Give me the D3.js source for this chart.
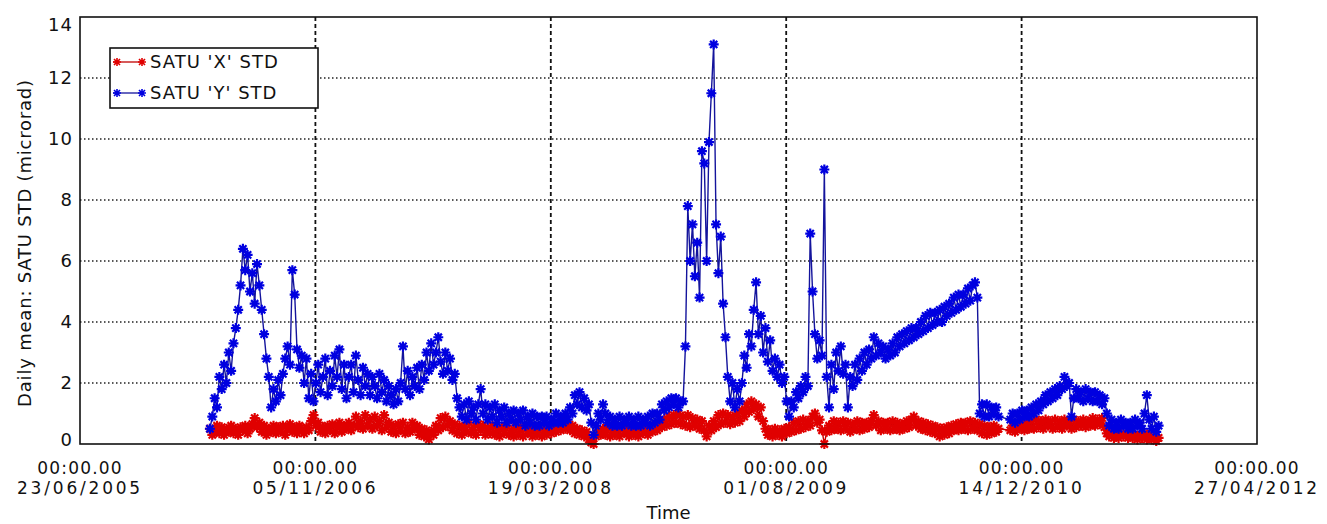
<!DOCTYPE html>
<html>
<head>
<meta charset="utf-8">
<script src="https://cdn.jsdelivr.net/npm/d3@7"></script>
<style>
  body { margin: 0; background: #fff; }
  svg text { font-family: "DejaVu Sans", sans-serif; fill: #111; }
</style>
</head>
<body>
<svg width="1327" height="524"></svg>
<script>
// daily means, read every 5 days from the first day of data
var startDate = "2006-03-26", stepDays = 5;

var satuX = [
  0.5,0.3,0.45,0.6,0.35,0.55,0.3,0.5,0.4,0.6,
  0.35,0.5,0.3,0.55,0.45,0.6,0.35,0.5,0.65,0.85,
  0.55,0.7,0.4,0.6,0.3,0.5,0.4,0.6,0.35,0.55,
  0.4,0.6,0.3,0.5,0.65,0.4,0.55,0.35,0.6,0.45,
  0.35,0.55,0.45,0.75,0.95,0.6,0.7,0.4,0.55,0.35,
  0.6,0.45,0.65,0.35,0.55,0.7,0.4,0.6,0.5,0.7,
  0.45,0.6,0.9,0.55,0.75,0.5,0.95,0.6,0.8,0.5,
  0.9,0.6,0.75,0.45,0.95,0.55,0.7,0.4,0.6,0.35,
  0.65,0.45,0.7,0.35,0.55,0.4,0.7,0.5,0.6,0.3,
  0.5,0.25,0.45,0.15,0.4,0.3,0.6,0.45,0.85,0.55,
  0.9,0.6,0.75,0.45,0.65,0.35,0.6,0.3,0.55,0.4,
  0.7,0.35,0.55,0.3,0.65,0.45,0.6,0.3,0.5,0.35,
  0.6,0.3,0.5,0.25,0.55,0.35,0.6,0.3,0.45,0.25,
  0.55,0.3,0.5,0.25,0.6,0.35,0.5,0.25,0.45,0.3,
  0.55,0.25,0.45,0.3,0.55,0.35,0.6,0.4,0.65,0.45,
  0.75,0.5,0.65,0.45,0.6,0.35,0.5,0.3,0.45,0.25,
  0.4,0.15,0.05,0.0,0.25,0.45,0.3,0.5,0.3,0.55,
  0.25,0.45,0.3,0.5,0.25,0.55,0.35,0.5,0.25,0.45,
  0.3,0.5,0.25,0.55,0.35,0.5,0.3,0.6,0.4,0.6,
  0.45,0.7,0.55,0.8,0.6,0.9,0.65,0.95,0.7,1.0,
  0.65,0.9,0.6,0.95,0.55,0.85,0.6,0.8,0.5,0.75,
  0.45,0.25,0.6,0.45,0.75,0.55,0.95,0.65,1.0,0.7,
  0.95,0.65,0.9,0.7,1.0,0.75,1.1,0.9,1.3,1.05,
  1.4,1.15,1.3,0.9,1.2,0.75,0.5,0.3,0.45,0.25,
  0.5,0.3,0.45,0.25,0.5,0.35,0.55,0.4,0.7,0.45,
  0.75,0.5,0.8,0.55,0.75,0.6,0.9,1.0,0.7,0.8,
  0.45,0.0,0.4,0.6,0.45,0.75,0.5,0.7,0.45,0.75,
  0.5,0.7,0.4,0.65,0.5,0.75,0.45,0.7,0.5,0.7,
  0.55,0.75,0.95,0.6,0.75,0.45,0.7,0.5,0.7,0.45,
  0.75,0.5,0.7,0.45,0.65,0.5,0.75,0.55,0.8,0.9,
  0.6,0.75,0.5,0.7,0.45,0.65,0.4,0.6,0.35,0.55,
  0.25,0.5,0.3,0.55,0.35,0.6,0.45,0.65,0.45,0.7,
  0.5,0.7,0.45,0.75,0.5,0.7,0.45,0.65,0.35,0.6,
  0.3,0.55,0.35,0.6,0.4,0.5,null,null,null,null,
  0.45,0.6,0.4,0.6,0.5,0.65,0.45,0.7,0.5,0.75,
  0.5,0.8,0.55,0.75,0.5,0.8,0.6,0.75,0.5,0.8,
  0.55,0.75,0.5,0.8,0.6,0.75,0.5,0.8,0.55,0.75,
  0.6,0.8,0.55,0.75,0.6,0.85,0.6,0.8,0.65,0.85,
  0.55,0.35,0.25,0.35,0.2,0.3,0.2,0.35,0.25,0.3,
  0.2,0.35,0.2,0.3,0.15,0.3,0.2,0.35,0.15,0.3,
  0.15,0.25,0.1,0.2];

var satuY = [
  0.5,0.9,1.5,1.2,2.2,1.8,2.6,2.0,3.0,2.4,
  3.3,3.8,4.4,5.2,6.4,5.7,6.2,5.0,5.6,4.6,
  5.9,5.2,4.4,3.6,2.8,2.2,1.2,1.8,1.4,2.1,
  1.6,2.3,2.8,3.2,2.6,5.7,4.9,3.1,2.5,2.9,
  2.0,2.8,1.5,2.3,1.4,2.0,2.6,1.7,2.2,2.8,
  1.6,2.4,1.9,2.9,2.2,3.1,1.8,2.6,1.5,2.2,
  2.6,1.7,2.9,2.1,1.6,2.5,1.9,2.3,1.6,2.2,
  1.9,1.5,2.3,1.7,2.1,1.4,1.9,1.6,1.3,1.8,
  1.4,2.0,3.2,1.8,2.4,1.6,2.2,1.9,2.5,1.8,
  2.6,2.1,3.0,2.4,3.3,2.6,3.0,3.5,2.7,2.3,
  3.0,2.4,2.8,2.1,2.3,1.5,1.2,0.9,1.3,0.8,
  1.4,1.0,1.2,0.8,1.3,1.8,1.0,1.3,0.8,1.2,
  0.9,1.3,0.7,1.1,0.9,1.2,0.7,1.0,0.8,1.1,
  0.7,1.0,0.8,1.1,0.6,0.9,0.7,1.0,0.6,0.9,
  0.6,0.9,0.7,0.9,0.6,0.8,0.7,1.0,0.7,0.9,
  0.7,1.0,0.8,1.2,1.0,1.6,1.3,1.7,1.2,1.5,
  1.1,1.3,0.7,0.3,0.6,1.0,0.8,1.3,1.0,0.7,
  0.9,0.6,0.8,0.6,0.9,0.6,0.8,0.7,0.9,0.6,
  0.8,0.6,0.9,0.6,0.8,0.7,0.9,0.6,1.0,0.7,
  1.0,0.8,1.3,1.1,1.4,1.2,1.5,1.3,1.5,1.2,
  1.4,1.4,3.2,7.8,6.0,7.2,5.5,6.6,4.8,9.6,
  9.2,6.0,9.9,11.5,13.1,7.2,5.6,6.8,4.6,3.5,
  2.2,1.4,2.0,1.2,1.8,1.4,2.0,2.9,2.5,3.6,
  3.2,4.4,5.3,3.6,4.2,3.0,3.8,2.7,3.4,2.4,
  2.8,2.2,2.6,2.0,2.2,1.4,0.9,1.4,1.2,1.7,
  1.5,1.9,1.7,2.2,1.9,6.9,5.0,3.6,2.8,3.4,
  2.9,9.0,2.2,1.2,2.6,1.8,3.0,2.4,3.2,2.3,
  2.6,1.2,2.2,1.9,2.6,2.1,2.8,2.4,3.0,2.6,
  3.1,2.8,3.5,2.9,3.3,3.0,3.2,2.8,3.1,2.9,
  3.3,3.0,3.5,3.2,3.6,3.3,3.7,3.4,3.8,3.5,
  3.8,3.6,4.0,3.7,4.2,3.8,4.3,3.9,4.3,4.0,
  4.4,4.0,4.5,4.2,4.6,4.3,4.8,4.4,4.9,4.5,
  4.9,4.6,5.1,4.7,5.2,5.3,4.8,1.0,1.3,0.9,
  1.3,0.9,1.2,1.0,1.2,0.9,null,null,null,null,
  0.8,1.0,0.7,1.0,0.8,1.1,0.9,1.1,0.9,1.2,
  1.0,1.3,1.1,1.4,1.3,1.6,1.4,1.7,1.5,1.8,
  1.6,1.9,1.8,2.2,1.9,2.0,0.9,1.5,1.8,1.5,
  1.7,1.4,1.8,1.5,1.7,1.4,1.7,1.4,1.6,1.3,
  1.5,1.0,0.6,0.8,0.5,0.7,0.5,0.8,0.6,0.7,
  0.5,0.7,0.5,0.8,0.6,0.7,0.5,1.0,1.6,0.8,
  0.5,0.9,0.4,0.6];

var xTickDates = ["2005-06-23", "2006-11-05", "2008-03-19", "2009-08-01", "2010-12-14", "2012-04-27"];
var xTickLabels = ["23/06/2005", "05/11/2006", "19/03/2008", "01/08/2009", "14/12/2010", "27/04/2012"];
var yTicks = [0, 2, 4, 6, 8, 10, 12, 14];

var seriesNames = ["SATU 'X' STD", "SATU 'Y' STD"];
var seriesColors = ["#e00000", "#0000e0"];
var lineColors = ["#c00000", "#14149c"];

var plotL = 80, plotR = 1257, plotT = 17, plotB = 444;
var svg = d3.select("svg");
var parse = d3.utcParse("%Y-%m-%d");

var x = d3.scaleUtc()
    .domain([parse(xTickDates[0]), parse(xTickDates[xTickDates.length - 1])])
    .range([plotL, plotR]);
var y = d3.scaleLinear().domain([0, 14]).range([plotB, plotT]);

// grid
svg.append("g").selectAll("line")
    .data(yTicks.slice(1, -1))
    .enter().append("line")
    .attr("x1", plotL).attr("x2", plotR)
    .attr("y1", function(d) { return y(d); })
    .attr("y2", function(d) { return y(d); })
    .attr("stroke", "#222").attr("stroke-width", 1.4)
    .attr("stroke-dasharray", "1.5,2.5");

svg.append("g").selectAll("line")
    .data(xTickDates.slice(1, -1))
    .enter().append("line")
    .attr("x1", function(d) { return x(parse(d)); })
    .attr("x2", function(d) { return x(parse(d)); })
    .attr("y1", plotT).attr("y2", plotB)
    .attr("stroke", "#111").attr("stroke-width", 1.8)
    .attr("stroke-dasharray", "4,3");

// series
var star = "M-4,0L4,0M0,-4L0,4M-3,-3L3,3M-3,3L3,-3";
var bigStar = "M-5,0L5,0M0,-5L0,5M-3.6,-3.6L3.6,3.6M-3.6,3.6L3.6,-3.6";
[satuX, satuY].forEach(function(vals, k) {
  var pts = [];
  vals.forEach(function(v, i) {
    if (v !== null) pts.push({ date: d3.utcDay.offset(parse(startDate), i * stepDays), v: v });
  });
  var line = d3.line()
      .x(function(d) { return x(d.date); })
      .y(function(d) { return y(d.v); });
  svg.append("path")
      .attr("d", line(pts))
      .attr("fill", "none")
      .attr("stroke", lineColors[k])
      .attr("stroke-width", 1.4);
  svg.append("g").selectAll("path")
      .data(pts)
      .enter().append("path")
      .attr("transform", function(d) { return "translate(" + x(d.date) + "," + y(d.v) + ")"; })
      .attr("d", bigStar)
      .attr("stroke", seriesColors[k])
      .attr("stroke-width", 2.2)
      .attr("fill", "none");
});

// frame
svg.append("rect")
    .attr("x", plotL).attr("y", plotT)
    .attr("width", plotR - plotL).attr("height", plotB - plotT)
    .attr("fill", "none").attr("stroke", "#111").attr("stroke-width", 1.6);

// y tick labels
svg.append("g").selectAll("text")
    .data(yTicks)
    .enter().append("text")
    .attr("x", 73)
    .attr("y", function(d) { return y(d) + (d === 14 ? 14 : d === 0 ? 2 : 6); })
    .attr("text-anchor", "end")
    .attr("font-size", 18)
    .attr("letter-spacing", 1)
    .text(function(d) { return d; });

// x tick labels
var xt = svg.append("g").selectAll("text")
    .data(xTickDates)
    .enter().append("text")
    .attr("text-anchor", "middle")
    .attr("font-size", 17);
xt.append("tspan")
    .attr("x", function(d) { return x(parse(d)); })
    .attr("y", 474)
    .attr("letter-spacing", 1.2)
    .text("00:00.00");
xt.append("tspan")
    .attr("x", function(d) { return x(parse(d)); })
    .attr("y", 494)
    .attr("letter-spacing", 2.8)
    .text(function(d, i) { return xTickLabels[i]; });

svg.append("text")
    .attr("x", (plotL + plotR) / 2).attr("y", 519)
    .attr("text-anchor", "middle")
    .attr("font-size", 18)
    .text("Time");

svg.append("text")
    .attr("transform", "translate(31,243) rotate(-90)")
    .attr("text-anchor", "middle")
    .attr("font-size", 18)
    .attr("letter-spacing", 0.8)
    .text("Daily mean: SATU STD (microrad)");

// legend
var lg = svg.append("g");
lg.append("rect")
    .attr("x", 110).attr("y", 48).attr("width", 208).attr("height", 60)
    .attr("fill", "#fff").attr("stroke", "#111").attr("stroke-width", 1.6);
seriesNames.forEach(function(name, k) {
  var ly = 62 + k * 31;
  lg.append("line")
      .attr("x1", 113).attr("x2", 142).attr("y1", ly).attr("y2", ly)
      .attr("stroke", lineColors[k]).attr("stroke-width", 1.3);
  [117, 142].forEach(function(mx) {
    lg.append("path")
        .attr("transform", "translate(" + mx + "," + ly + ")")
        .attr("d", star)
        .attr("stroke", seriesColors[k]).attr("stroke-width", 1.6).attr("fill", "none");
  });
  lg.append("text")
      .attr("x", 150).attr("y", ly + 6)
      .attr("font-size", 18)
      .attr("letter-spacing", 1)
      .text(name);
});
</script>
</body>
</html>
